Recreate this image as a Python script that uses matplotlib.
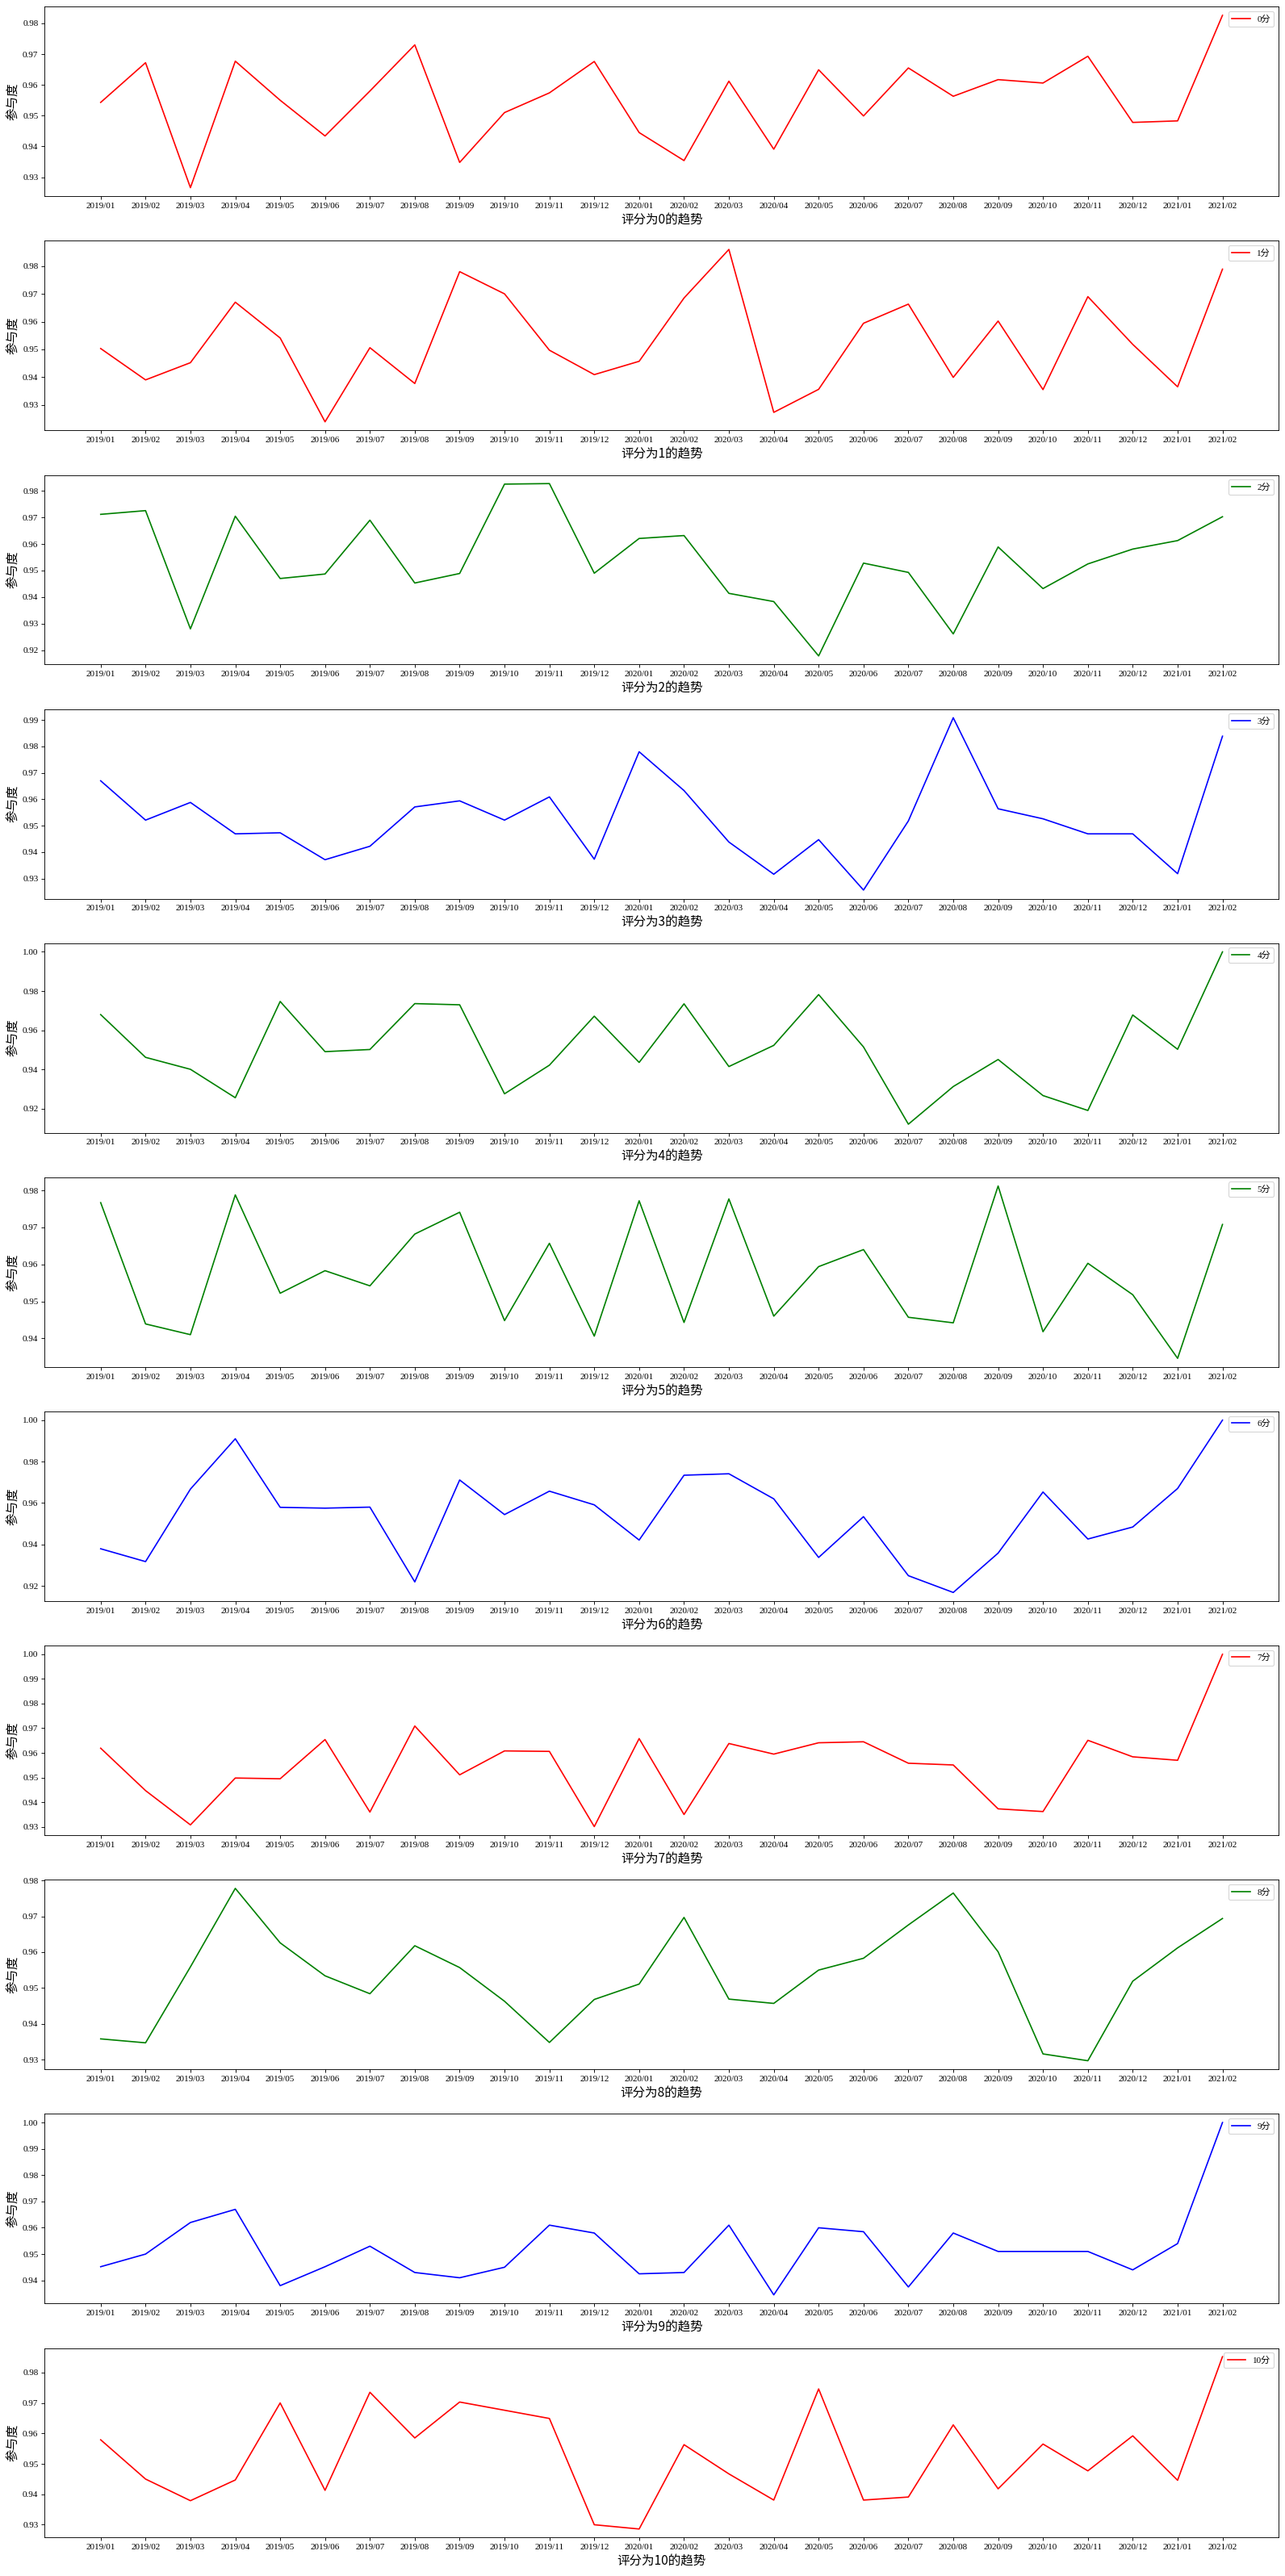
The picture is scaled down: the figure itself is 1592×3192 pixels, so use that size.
import matplotlib
matplotlib.use("Agg")
import matplotlib.pyplot as plt

plt.rcParams['font.family'] = ['Liberation Serif', 'Noto Sans CJK SC', 'DejaVu Sans']
plt.rcParams['axes.unicode_minus'] = False

months = ["2019/01", "2019/02", "2019/03", "2019/04", "2019/05", "2019/06",
          "2019/07", "2019/08", "2019/09", "2019/10", "2019/11", "2019/12",
          "2020/01", "2020/02", "2020/03", "2020/04", "2020/05", "2020/06",
          "2020/07", "2020/08", "2020/09", "2020/10", "2020/11", "2020/12",
          "2021/01", "2021/02"]

score0 = [0.9543, 0.9672, 0.9266, 0.9677, 0.9550, 0.9434, 0.9580, 0.9730, 0.9348, 0.9510,
          0.9574, 0.9676, 0.9445, 0.9354, 0.9612, 0.9391, 0.9649, 0.9499, 0.9655, 0.9563,
          0.9617, 0.9606, 0.9693, 0.9478, 0.9483, 0.9826]
score1 = [0.9503, 0.9390, 0.9452, 0.9670, 0.9541, 0.9239, 0.9506, 0.9377, 0.9780, 0.9700,
          0.9497, 0.9409, 0.9457, 0.9685, 0.9860, 0.9273, 0.9356, 0.9594, 0.9663, 0.9399,
          0.9602, 0.9355, 0.9690, 0.9518, 0.9365, 0.9789]
score2 = [0.9712, 0.9726, 0.9280, 0.9705, 0.9470, 0.9487, 0.9690, 0.9453, 0.9489, 0.9826,
          0.9828, 0.9490, 0.9621, 0.9632, 0.9414, 0.9383, 0.9178, 0.9528, 0.9493, 0.9261,
          0.9589, 0.9432, 0.9525, 0.9581, 0.9613, 0.9703]
score3 = [0.9670, 0.9521, 0.9588, 0.9469, 0.9473, 0.9371, 0.9422, 0.9571, 0.9594, 0.9521,
          0.9609, 0.9373, 0.9780, 0.9633, 0.9438, 0.9316, 0.9447, 0.9256, 0.9518, 0.9909,
          0.9564, 0.9526, 0.9469, 0.9469, 0.9318, 0.9839]
score4 = [0.9680, 0.9462, 0.9401, 0.9256, 0.9747, 0.9491, 0.9502, 0.9736, 0.9730, 0.9276,
          0.9422, 0.9672, 0.9436, 0.9735, 0.9415, 0.9523, 0.9782, 0.9515, 0.9121, 0.9313,
          0.9451, 0.9267, 0.9191, 0.9678, 0.9503, 1.0000]
score5 = [0.9767, 0.9439, 0.9410, 0.9788, 0.9522, 0.9583, 0.9542, 0.9682, 0.9741, 0.9448,
          0.9657, 0.9406, 0.9772, 0.9443, 0.9777, 0.9460, 0.9594, 0.9640, 0.9457, 0.9442,
          0.9812, 0.9418, 0.9603, 0.9518, 0.9346, 0.9708]
score6 = [0.9379, 0.9317, 0.9667, 0.9910, 0.9579, 0.9575, 0.9580, 0.9219, 0.9711, 0.9544,
          0.9657, 0.9591, 0.9421, 0.9734, 0.9741, 0.9620, 0.9337, 0.9534, 0.9249, 0.9168,
          0.9358, 0.9653, 0.9426, 0.9484, 0.9670, 1.0000]
score7 = [0.9619, 0.9447, 0.9308, 0.9498, 0.9495, 0.9654, 0.9360, 0.9709, 0.9511, 0.9608,
          0.9606, 0.9301, 0.9658, 0.9350, 0.9638, 0.9595, 0.9641, 0.9645, 0.9558, 0.9551,
          0.9373, 0.9362, 0.9651, 0.9584, 0.9570, 1.0000]
score8 = [0.9358, 0.9347, 0.9559, 0.9778, 0.9626, 0.9534, 0.9484, 0.9618, 0.9557, 0.9463,
          0.9348, 0.9468, 0.9511, 0.9697, 0.9469, 0.9457, 0.9550, 0.9583, 0.9676, 0.9765,
          0.9601, 0.9316, 0.9297, 0.9519, 0.9612, 0.9694]
score9 = [0.9452, 0.9500, 0.9620, 0.9670, 0.9380, 0.9452, 0.9530, 0.9430, 0.9410, 0.9450,
          0.9610, 0.9580, 0.9425, 0.9430, 0.9610, 0.9345, 0.9600, 0.9585, 0.9375, 0.9580,
          0.9510, 0.9510, 0.9510, 0.9440, 0.9540, 1.0000]
score10 = [0.9579, 0.9450, 0.9379, 0.9447, 0.9700, 0.9413, 0.9735, 0.9585, 0.9703, 0.9676,
           0.9649, 0.9300, 0.9286, 0.9563, 0.9467, 0.9381, 0.9746, 0.9381, 0.9391, 0.9628,
           0.9418, 0.9565, 0.9477, 0.9592, 0.9446, 0.9852]

series = [score0, score1, score2, score3, score4, score5, score6, score7, score8, score9, score10]
labels = ["0分", "1分", "2分", "3分", "4分", "5分", "6分", "7分", "8分", "9分", "10分"]
colors = ["red", "red", "green", "blue", "green", "green", "blue", "red", "green", "blue", "red"]
xlabels = ["评分为%d的趋势" % i for i in range(11)]

fig, axes = plt.subplots(11, 1, figsize=(19.9, 39.9), dpi=80)
fig.subplots_adjust(left=0.0347, right=0.995, top=0.9974, bottom=0.0149, hspace=0.235)

cjk = ['Noto Sans CJK SC', 'DejaVu Sans']
for ax, ys, lab, col, xl in zip(axes, series, labels, colors, xlabels):
    ax.plot(months, ys, color=col, linewidth=1.5, label=lab)
    ax.set_xlabel(xl, fontsize=14, family=cjk)
    ax.set_ylabel("参与度", fontsize=14, family=cjk)
    ax.tick_params(axis='both', labelsize=10)
    ax.legend(loc='upper right', fontsize=10)

fig.savefig("out.png", dpi=80)
